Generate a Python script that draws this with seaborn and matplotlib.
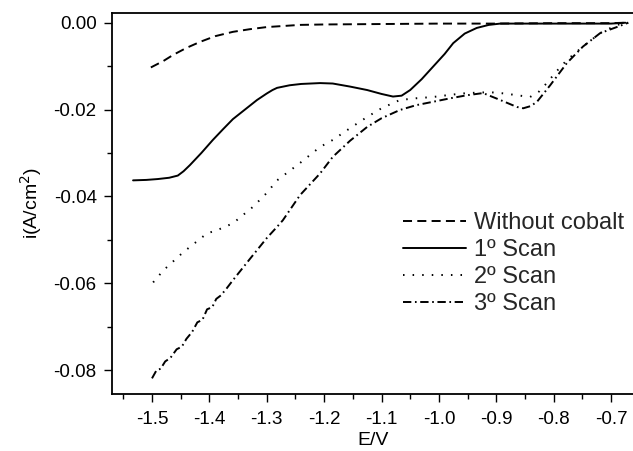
#!/usr/bin/env python3

import pandas
import matplotlib

matplotlib.use("Agg")
import matplotlib.pylab as plt
import seaborn as sns

sns.set_theme(style="ticks")
plt.rcParams["font.family"] = ["Liberation Sans", "DejaVu Sans"]
plt.rcParams["lines.scale_dashes"] = False

# Values (E in V, i in A/cm2)
e_without = [-1.502, -1.48, -1.463, -1.44, -1.416, -1.39, -1.359, -1.33, -1.30,
             -1.242, -1.20, -1.10, -1.00, -0.90, -0.80, -0.70, -0.675]
i_without = [-0.0103, -0.0088, -0.0074, -0.0058, -0.0044, -0.0031, -0.0021,
             -0.0015, -0.0010, -0.0005, -0.0004, -0.0003, -0.0002, -0.0002,
             -0.0001, -0.0001, 0.0]

e_scan1 = [-1.533, -1.51, -1.49, -1.47, -1.455, -1.445, -1.434, -1.414, -1.394,
           -1.376, -1.359, -1.338, -1.317, -1.30, -1.29, -1.282, -1.26, -1.24,
           -1.207, -1.185, -1.155, -1.125, -1.10, -1.08, -1.065, -1.05, -1.03,
           -1.01, -0.99, -0.975, -0.955, -0.934, -0.913, -0.893, -0.85, -0.80,
           -0.75, -0.70, -0.675]
i_scan1 = [-0.0363, -0.0362, -0.0360, -0.0357, -0.0352, -0.0342, -0.0328,
           -0.0300, -0.0270, -0.0245, -0.0222, -0.0200, -0.0178, -0.0163,
           -0.0155, -0.0150, -0.0144, -0.0141, -0.0139, -0.0140, -0.0147,
           -0.0155, -0.0164, -0.0170, -0.0168, -0.0155, -0.0130, -0.0101,
           -0.0072, -0.0047, -0.0025, -0.0012, -0.0005, -0.0002, -0.0002,
           -0.0002, -0.0002, -0.0002, 0.0]

e_scan2 = [-1.498, -1.48, -1.446, -1.404, -1.387, -1.359, -1.324, -1.30, -1.282,
           -1.242, -1.207, -1.185, -1.155, -1.125, -1.10, -1.068, -1.04, -1.01,
           -0.98, -0.951, -0.911, -0.885, -0.864, -0.841, -0.825, -0.812, -0.795,
           -0.777, -0.749, -0.719, -0.69, -0.67]
i_scan2 = [-0.0598, -0.0570, -0.0529, -0.0485, -0.0478, -0.0462, -0.0424,
           -0.0392, -0.0363, -0.0323, -0.0286, -0.0270, -0.0243, -0.0217,
           -0.0197, -0.0178, -0.0174, -0.0171, -0.0166, -0.0162, -0.0160,
           -0.0163, -0.0167, -0.0171, -0.0158, -0.0139, -0.0112, -0.0086,
           -0.0055, -0.0024, -0.0005, 0.0]

e_scan3 = [-1.50, -1.492, -1.485, -1.477, -1.468, -1.457, -1.448, -1.44, -1.43,
           -1.421, -1.412, -1.404, -1.395, -1.388, -1.38, -1.37, -1.359, -1.33,
           -1.30, -1.282, -1.272, -1.242, -1.207, -1.185, -1.155, -1.125, -1.10,
           -1.068, -1.04, -1.01, -0.98, -0.951, -0.923, -0.893, -0.864, -0.853,
           -0.84, -0.829, -0.806, -0.777, -0.749, -0.719, -0.69, -0.67]
i_scan3 = [-0.0819, -0.0800, -0.0797, -0.0780, -0.0772, -0.0752, -0.0746,
           -0.0728, -0.0712, -0.0690, -0.0684, -0.0660, -0.0655, -0.0636,
           -0.0628, -0.0612, -0.0593, -0.0545, -0.0496, -0.0470, -0.0455,
           -0.0397, -0.0347, -0.0309, -0.0272, -0.0240, -0.0220, -0.0201,
           -0.0190, -0.0182, -0.0174, -0.0167, -0.0162, -0.0178, -0.0194,
           -0.0197, -0.0192, -0.0182, -0.0144, -0.0093, -0.0055, -0.0024,
           -0.0010, 0.0]

series = [
    ("Without cobalt", e_without, i_without, (0, (6.5, 3.8))),
    ("1\u00ba Scan", e_scan1, i_scan1, "-"),
    ("2\u00ba Scan", e_scan2, i_scan2, (0, (1.1, 5.8))),
    ("3\u00ba Scan", e_scan3, i_scan3, (0, (6.0, 2.6, 1.2, 2.6))),
]

fig = plt.figure(figsize=(6.33, 4.51), dpi=100)
ax = fig.add_axes([112 / 633, 57 / 451, 523 / 633, 381 / 451])

for label, e, i, ls in series:
    df = pandas.DataFrame({"E": e, "i": i})
    sns.lineplot(data=df, x="E", y="i", ax=ax, color="black", linewidth=1.4,
                 linestyle=ls, sort=False, estimator=None, label=label)

ax.set_xlim(-1.5697, -0.6582)
ax.set_ylim(-0.0855, 0.00224)
ax.set_xticks([-1.5, -1.4, -1.3, -1.2, -1.1, -1.0, -0.9, -0.8, -0.7])
ax.set_xticklabels(["-1.5", "-1.4", "-1.3", "-1.2", "-1.1", "-1.0", "-0.9",
                    "-0.8", "-0.7"])
ax.set_xticks([-1.55, -1.45, -1.35, -1.25, -1.15, -1.05, -0.95, -0.85, -0.75],
              minor=True)
ax.set_yticks([0.0, -0.02, -0.04, -0.06, -0.08])
ax.set_yticklabels(["0.00", "-0.02", "-0.04", "-0.06", "-0.08"])
ax.set_yticks([-0.01, -0.03, -0.05, -0.07], minor=True)

ax.tick_params(which="major", direction="out", length=6, width=1.0,
               color="black", labelsize=13.5, labelcolor="black", pad=5)
ax.tick_params(which="minor", direction="out", length=3.5, width=1.0,
               color="black")
ax.tick_params(axis="x", which="major", pad=6)
for side in ["left", "top", "bottom"]:
    ax.spines[side].set_linewidth(1.3)
    ax.spines[side].set_color("black")
ax.spines["right"].set_visible(False)

ax.set_xlabel("E/V", fontsize=14, color="black", labelpad=3)
ax.set_ylabel("i(A/cm$^2$)", fontsize=14, color="black", labelpad=7)

ax.legend(loc="upper left", bbox_to_anchor=(0.557, 0.478), frameon=False,
          fontsize=17, handlelength=2.65, handletextpad=0.33, labelspacing=0.22,
          borderpad=0, borderaxespad=0)

plt.savefig("out.png", dpi=100)
plt.close()
